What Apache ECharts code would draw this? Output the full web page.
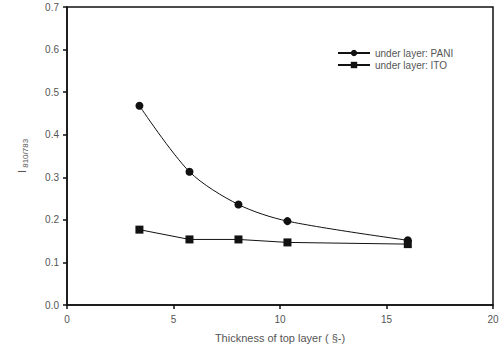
<!DOCTYPE html>
<html>
<head>
<meta charset="utf-8">
<script src="https://cdn.jsdelivr.net/npm/echarts@6/dist/echarts.min.js"></script>
<style>
  html, body { margin: 0; padding: 0; background: #fff; }
  #chart { width: 503px; height: 354px; }
</style>
</head>
<body>
<div id="chart"></div>
<script>
var thickness = [3.4, 5.75, 8.05, 10.35, 16];
var pani = [0.468, 0.313, 0.236, 0.197, 0.152];
var ito = [0.177, 0.154, 0.154, 0.147, 0.143];

function pairs(xs, ys) {
  return xs.map(function (x, i) { return [x, ys[i]]; });
}

var ink = '#111';
var muted = '#555';

var chart = echarts.init(document.getElementById('chart'), null, { renderer: 'svg' });
chart.setOption({
  animation: false,
  textStyle: { fontFamily: 'Liberation Sans, Arial, sans-serif' },
  grid: { left: 67, right: 10, top: 7, bottom: 49, show: true, borderColor: ink, borderWidth: 1.5 },
  legend: {
    orient: 'vertical',
    left: 332,
    top: 43,
    itemGap: 2,
    itemWidth: 32,
    itemHeight: 8,
    textStyle: { color: muted, fontSize: 10 },
    data: ['under layer: PANI', 'under layer: ITO']
  },
  xAxis: {
    type: 'value',
    min: 0, max: 20, interval: 5,
    name: 'Thickness of top layer ( §-)',
    nameLocation: 'middle',
    nameGap: 27,
    nameTextStyle: { color: muted, fontSize: 11 },
    axisLine: { onZero: false, lineStyle: { color: ink, width: 1.5 } },
    axisTick: { length: 4, lineStyle: { color: ink, width: 1.5 } },
    axisLabel: { color: muted, fontSize: 10, margin: 9 },
    splitLine: { show: false }
  },
  yAxis: {
    type: 'value',
    min: 0, max: 0.7, interval: 0.1,
    name: '{i|I}{s| 810/783}',
    nameLocation: 'middle',
    nameGap: 38,
    nameTextStyle: {
      rich: {
        i: { color: muted, fontSize: 11 },
        s: { color: muted, fontSize: 8, verticalAlign: 'bottom', padding: [6, 0, 0, 0] }
      }
    },
    axisLine: { onZero: false, lineStyle: { color: ink, width: 1.5 } },
    axisTick: { length: 4, lineStyle: { color: ink, width: 1.5 } },
    axisLabel: { color: muted, fontSize: 10, margin: 8, formatter: function (v) { return v.toFixed(1); } },
    splitLine: { show: false }
  },
  series: [
    {
      name: 'under layer: PANI',
      type: 'line',
      smooth: 0.3,
      symbol: 'circle',
      symbolSize: 8,
      itemStyle: { color: ink },
      lineStyle: { color: ink, width: 1 },
      data: pairs(thickness, pani)
    },
    {
      name: 'under layer: ITO',
      type: 'line',
      symbol: 'rect',
      symbolSize: 8,
      itemStyle: { color: ink },
      lineStyle: { color: ink, width: 1 },
      data: pairs(thickness, ito)
    }
  ]
});
</script>
</body>
</html>
